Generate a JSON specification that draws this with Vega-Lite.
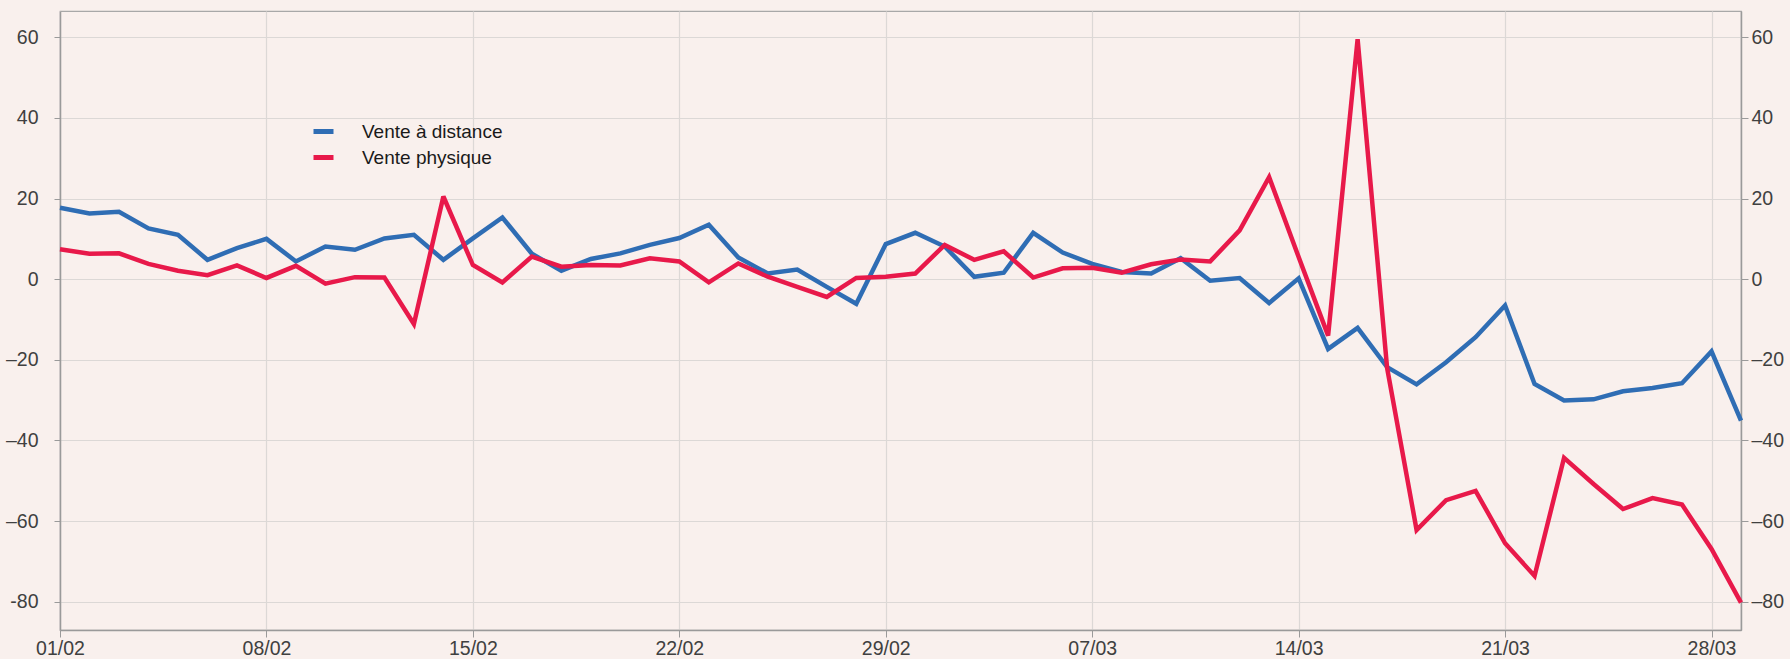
{
  "$schema": "https://vega.github.io/schema/vega-lite/v6.json",
  "width": 1681,
  "height": 619,
  "autosize": {"type": "none"},
  "padding": {"left": 60, "top": 11, "right": 49, "bottom": 29},
  "background": "#f9f0ed",
  "config": {
    "view": {"stroke": "#a8a8a8", "strokeWidth": 1.2, "fill": "#f9f0ed"},
    "font": "Liberation Sans",
    "axis": {"labelFont": "Liberation Sans", "labelFontSize": 19.5, "labelColor": "#404040", "domainColor": "#9a9a9a", "tickColor": "#9a9a9a", "gridColor": "#dcd8d6", "gridWidth": 1.2, "domainWidth": 1.5}
  },
  "datasets": {
    "series": [
      {"date": "2020-02-01", "serie": "Vente à distance", "value": 17.7},
      {"date": "2020-02-02", "serie": "Vente à distance", "value": 16.3},
      {"date": "2020-02-03", "serie": "Vente à distance", "value": 16.7},
      {"date": "2020-02-04", "serie": "Vente à distance", "value": 12.6},
      {"date": "2020-02-05", "serie": "Vente à distance", "value": 11.0},
      {"date": "2020-02-06", "serie": "Vente à distance", "value": 4.8},
      {"date": "2020-02-07", "serie": "Vente à distance", "value": 7.7},
      {"date": "2020-02-08", "serie": "Vente à distance", "value": 10.0},
      {"date": "2020-02-09", "serie": "Vente à distance", "value": 4.4},
      {"date": "2020-02-10", "serie": "Vente à distance", "value": 8.1},
      {"date": "2020-02-11", "serie": "Vente à distance", "value": 7.3},
      {"date": "2020-02-12", "serie": "Vente à distance", "value": 10.1},
      {"date": "2020-02-13", "serie": "Vente à distance", "value": 11.0},
      {"date": "2020-02-14", "serie": "Vente à distance", "value": 4.8},
      {"date": "2020-02-15", "serie": "Vente à distance", "value": 10.1},
      {"date": "2020-02-16", "serie": "Vente à distance", "value": 15.3},
      {"date": "2020-02-17", "serie": "Vente à distance", "value": 6.3},
      {"date": "2020-02-18", "serie": "Vente à distance", "value": 2.1},
      {"date": "2020-02-19", "serie": "Vente à distance", "value": 5.0},
      {"date": "2020-02-20", "serie": "Vente à distance", "value": 6.4},
      {"date": "2020-02-21", "serie": "Vente à distance", "value": 8.5},
      {"date": "2020-02-22", "serie": "Vente à distance", "value": 10.2},
      {"date": "2020-02-23", "serie": "Vente à distance", "value": 13.5},
      {"date": "2020-02-24", "serie": "Vente à distance", "value": 5.4},
      {"date": "2020-02-25", "serie": "Vente à distance", "value": 1.4},
      {"date": "2020-02-26", "serie": "Vente à distance", "value": 2.4},
      {"date": "2020-02-27", "serie": "Vente à distance", "value": -1.9},
      {"date": "2020-02-28", "serie": "Vente à distance", "value": -6.1},
      {"date": "2020-02-29", "serie": "Vente à distance", "value": 8.7},
      {"date": "2020-03-01", "serie": "Vente à distance", "value": 11.5},
      {"date": "2020-03-02", "serie": "Vente à distance", "value": 8.1},
      {"date": "2020-03-03", "serie": "Vente à distance", "value": 0.6},
      {"date": "2020-03-04", "serie": "Vente à distance", "value": 1.6},
      {"date": "2020-03-05", "serie": "Vente à distance", "value": 11.5},
      {"date": "2020-03-06", "serie": "Vente à distance", "value": 6.6},
      {"date": "2020-03-07", "serie": "Vente à distance", "value": 3.8},
      {"date": "2020-03-08", "serie": "Vente à distance", "value": 1.8},
      {"date": "2020-03-09", "serie": "Vente à distance", "value": 1.4},
      {"date": "2020-03-10", "serie": "Vente à distance", "value": 5.2},
      {"date": "2020-03-11", "serie": "Vente à distance", "value": -0.4},
      {"date": "2020-03-12", "serie": "Vente à distance", "value": 0.3},
      {"date": "2020-03-13", "serie": "Vente à distance", "value": -5.9},
      {"date": "2020-03-14", "serie": "Vente à distance", "value": 0.2},
      {"date": "2020-03-15", "serie": "Vente à distance", "value": -17.3},
      {"date": "2020-03-16", "serie": "Vente à distance", "value": -12.1},
      {"date": "2020-03-17", "serie": "Vente à distance", "value": -21.8},
      {"date": "2020-03-18", "serie": "Vente à distance", "value": -26.1},
      {"date": "2020-03-19", "serie": "Vente à distance", "value": -20.6},
      {"date": "2020-03-20", "serie": "Vente à distance", "value": -14.4},
      {"date": "2020-03-21", "serie": "Vente à distance", "value": -6.5},
      {"date": "2020-03-22", "serie": "Vente à distance", "value": -26.0},
      {"date": "2020-03-23", "serie": "Vente à distance", "value": -30.1},
      {"date": "2020-03-24", "serie": "Vente à distance", "value": -29.8},
      {"date": "2020-03-25", "serie": "Vente à distance", "value": -27.8},
      {"date": "2020-03-26", "serie": "Vente à distance", "value": -27.0},
      {"date": "2020-03-27", "serie": "Vente à distance", "value": -25.8},
      {"date": "2020-03-28", "serie": "Vente à distance", "value": -17.9},
      {"date": "2020-03-29", "serie": "Vente à distance", "value": -35.1},
      {"date": "2020-02-01", "serie": "Vente physique", "value": 7.4},
      {"date": "2020-02-02", "serie": "Vente physique", "value": 6.3},
      {"date": "2020-02-03", "serie": "Vente physique", "value": 6.4},
      {"date": "2020-02-04", "serie": "Vente physique", "value": 3.8},
      {"date": "2020-02-05", "serie": "Vente physique", "value": 2.1},
      {"date": "2020-02-06", "serie": "Vente physique", "value": 1.0},
      {"date": "2020-02-07", "serie": "Vente physique", "value": 3.4},
      {"date": "2020-02-08", "serie": "Vente physique", "value": 0.3},
      {"date": "2020-02-09", "serie": "Vente physique", "value": 3.3},
      {"date": "2020-02-10", "serie": "Vente physique", "value": -1.1},
      {"date": "2020-02-11", "serie": "Vente physique", "value": 0.5},
      {"date": "2020-02-12", "serie": "Vente physique", "value": 0.4},
      {"date": "2020-02-13", "serie": "Vente physique", "value": -11.1},
      {"date": "2020-02-14", "serie": "Vente physique", "value": 20.5},
      {"date": "2020-02-15", "serie": "Vente physique", "value": 3.5},
      {"date": "2020-02-16", "serie": "Vente physique", "value": -0.8},
      {"date": "2020-02-17", "serie": "Vente physique", "value": 5.6},
      {"date": "2020-02-18", "serie": "Vente physique", "value": 3.1},
      {"date": "2020-02-19", "serie": "Vente physique", "value": 3.5},
      {"date": "2020-02-20", "serie": "Vente physique", "value": 3.4},
      {"date": "2020-02-21", "serie": "Vente physique", "value": 5.2},
      {"date": "2020-02-22", "serie": "Vente physique", "value": 4.4},
      {"date": "2020-02-23", "serie": "Vente physique", "value": -0.8},
      {"date": "2020-02-24", "serie": "Vente physique", "value": 3.9},
      {"date": "2020-02-25", "serie": "Vente physique", "value": 0.6},
      {"date": "2020-02-26", "serie": "Vente physique", "value": -1.9},
      {"date": "2020-02-27", "serie": "Vente physique", "value": -4.4},
      {"date": "2020-02-28", "serie": "Vente physique", "value": 0.3},
      {"date": "2020-02-29", "serie": "Vente physique", "value": 0.6},
      {"date": "2020-03-01", "serie": "Vente physique", "value": 1.4},
      {"date": "2020-03-02", "serie": "Vente physique", "value": 8.5},
      {"date": "2020-03-03", "serie": "Vente physique", "value": 4.8},
      {"date": "2020-03-04", "serie": "Vente physique", "value": 6.9},
      {"date": "2020-03-05", "serie": "Vente physique", "value": 0.4},
      {"date": "2020-03-06", "serie": "Vente physique", "value": 2.7},
      {"date": "2020-03-07", "serie": "Vente physique", "value": 2.8},
      {"date": "2020-03-08", "serie": "Vente physique", "value": 1.6},
      {"date": "2020-03-09", "serie": "Vente physique", "value": 3.7},
      {"date": "2020-03-10", "serie": "Vente physique", "value": 4.9},
      {"date": "2020-03-11", "serie": "Vente physique", "value": 4.4},
      {"date": "2020-03-12", "serie": "Vente physique", "value": 12.1},
      {"date": "2020-03-13", "serie": "Vente physique", "value": 25.3},
      {"date": "2020-03-14", "serie": "Vente physique", "value": 5.5},
      {"date": "2020-03-15", "serie": "Vente physique", "value": -14.0},
      {"date": "2020-03-16", "serie": "Vente physique", "value": 59.5},
      {"date": "2020-03-17", "serie": "Vente physique", "value": -22.0},
      {"date": "2020-03-18", "serie": "Vente physique", "value": -62.2},
      {"date": "2020-03-19", "serie": "Vente physique", "value": -54.8},
      {"date": "2020-03-20", "serie": "Vente physique", "value": -52.5},
      {"date": "2020-03-21", "serie": "Vente physique", "value": -65.5},
      {"date": "2020-03-22", "serie": "Vente physique", "value": -73.6},
      {"date": "2020-03-23", "serie": "Vente physique", "value": -44.3},
      {"date": "2020-03-24", "serie": "Vente physique", "value": -50.8},
      {"date": "2020-03-25", "serie": "Vente physique", "value": -57.0},
      {"date": "2020-03-26", "serie": "Vente physique", "value": -54.3},
      {"date": "2020-03-27", "serie": "Vente physique", "value": -55.9},
      {"date": "2020-03-28", "serie": "Vente physique", "value": -66.9},
      {"date": "2020-03-29", "serie": "Vente physique", "value": -80.2}
    ]
  },
  "data": {"name": "series"},
  "encoding": {
    "x": {
      "field": "date",
      "type": "temporal",
      "title": null,
      "scale": {"type": "utc", "domain": [{"year": 2020, "month": 2, "date": 1, "utc": true}, {"year": 2020, "month": 3, "date": 29, "utc": true}], "nice": false},
      "axis": {
        "values": [
          {"year": 2020, "month": 2, "date": 1, "utc": true},
          {"year": 2020, "month": 2, "date": 8, "utc": true},
          {"year": 2020, "month": 2, "date": 15, "utc": true},
          {"year": 2020, "month": 2, "date": 22, "utc": true},
          {"year": 2020, "month": 2, "date": 29, "utc": true},
          {"year": 2020, "month": 3, "date": 7, "utc": true},
          {"year": 2020, "month": 3, "date": 14, "utc": true},
          {"year": 2020, "month": 3, "date": 21, "utc": true},
          {"year": 2020, "month": 3, "date": 28, "utc": true}
        ],
        "labelExpr": "utcFormat(datum.value, '%d/%m')",
        "grid": true,
        "tickSize": 7,
        "labelPadding": 2,
        "labelFlush": false,
        "labelOverlap": false
      }
    }
  },
  "layer": [
    {
      "mark": {"type": "line", "strokeWidth": 4.5, "strokeJoin": "miter", "strokeMiterLimit": 3},
      "encoding": {
        "y": {
          "field": "value",
          "type": "quantitative",
          "title": null,
          "scale": {"domain": [-87, 66.5], "nice": false, "zero": false},
          "axis": {
            "orient": "left",
            "values": [-80, -60, -40, -20, 0, 20, 40, 60],
            "labelExpr": "datum.value == -80 ? '-80' : (datum.value < 0 ? '–' + format(-datum.value, 'd') : format(datum.value, 'd'))",
            "grid": true,
            "tickSize": 6,
            "labelPadding": 16
          }
        },
        "color": {
          "field": "serie",
          "type": "nominal",
          "scale": {"domain": ["Vente à distance", "Vente physique"], "range": ["#2f6db4", "#e8194a"]},
          "legend": {
            "title": null,
            "orient": "none",
            "legendX": 251,
            "legendY": 108,
            "padding": 0,
            "symbolType": "stroke",
            "symbolSize": 400,
            "symbolStrokeWidth": 5,
            "labelFont": "Liberation Sans",
            "labelFontSize": 19,
            "labelColor": "#1a1a1a",
            "labelOffset": 26,
            "rowPadding": 3
          }
        }
      }
    },
    {
      "mark": {"type": "line", "opacity": 0},
      "encoding": {
        "y": {
          "field": "value",
          "type": "quantitative",
          "title": null,
          "scale": {"domain": [-87, 66.5], "nice": false, "zero": false},
          "axis": {
            "orient": "right",
            "values": [-80, -60, -40, -20, 0, 20, 40, 60],
            "labelExpr": "datum.value < 0 ? '–' + format(-datum.value, 'd') : format(datum.value, 'd')",
            "grid": false,
            "tickSize": 7,
            "labelPadding": 3
          }
        },
        "detail": {"field": "serie"}
      }
    }
  ],
  "resolve": {"scale": {"y": "independent"}}
}
